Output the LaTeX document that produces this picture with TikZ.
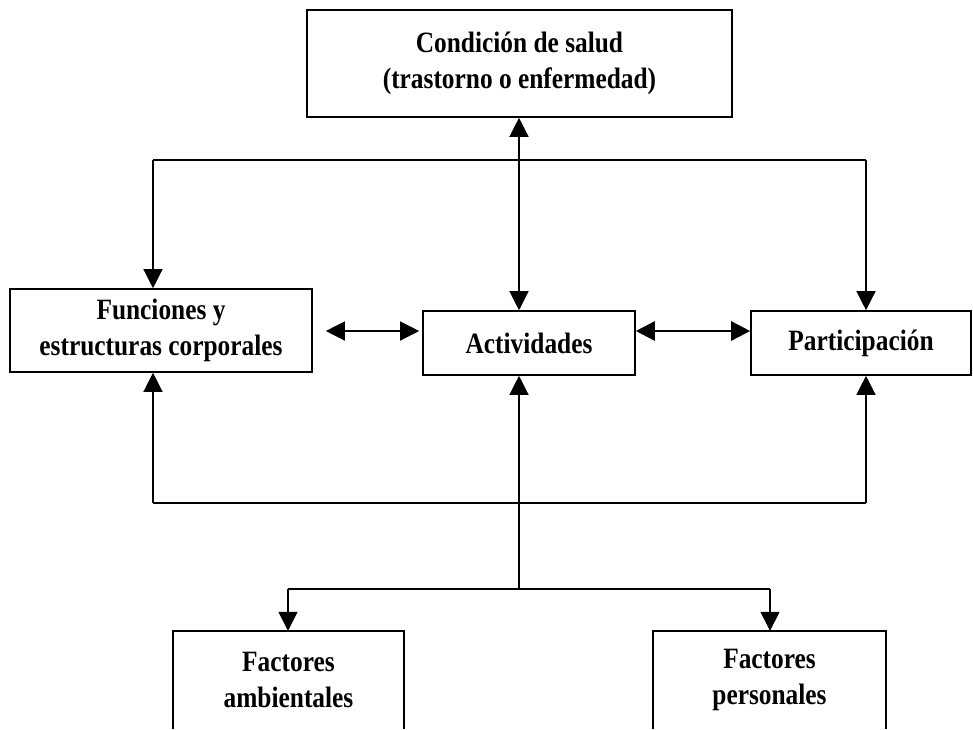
\documentclass[tikz,border=0pt]{standalone}
\usepackage{fontspec}
\setmainfont{Liberation Serif}[FakeStretch=0.86]
\usetikzlibrary{arrows.meta}
\begin{document}
\begin{tikzpicture}[x=1pt,y=-1pt,
  txt/.style={inner sep=0pt, align=center, font=\fontsize{29.5}{36}\selectfont\bfseries},
  box/.style={txt, draw, line width=1.6pt},
  link/.style={line width=1.3pt},
  tip/.style={-{Triangle[width=19pt,length=19pt]}},
  tips/.style={{Triangle[width=19pt,length=19pt]}-{Triangle[width=19pt,length=19pt]}}]
\useasboundingbox (0,0) rectangle (973,729);
% boxes
\node[box, minimum width=425pt, minimum height=107pt] (top) at (519.5,63.5)
  {Condición de salud\\(trastorno o enfermedad)};
\node[box, minimum width=302pt, minimum height=83pt] (left) at (161,330.5)
  {Funciones y\\estructuras corporales};
\node[box, minimum width=212pt, minimum height=64pt] (act) at (529,343) {Actividades};
\node[box, minimum width=220pt, minimum height=64pt] (part) at (861,343) {Participación};
\node[txt, minimum width=231pt, minimum height=98pt] (fa) at (288.5,680)
  {Factores\\ambientales};
\node[txt, minimum width=233pt, minimum height=98pt] (fp) at (769.5,680)
  {Factores\\personales};
\draw[line width=1.8pt] (fa.south west) -- (fa.north west) -- (fa.north east) -- (fa.south east);
\draw[line width=1.8pt] (fp.south west) -- (fp.north west) -- (fp.north east) -- (fp.south east);
% helper coordinates
\coordinate (cx) at (519,0);
\coordinate (tl) at (153,160);
\coordinate (tr) at (866,160);
\coordinate (bl) at (153,503);
\coordinate (br) at (866,503);
\coordinate (bj) at (519,589);
\coordinate (fl) at (288,589);
\coordinate (fr) at (770,589);
\coordinate (ay) at (0,331);
% top connectors
\draw[link, tips] (top.south -| cx) -- (act.north -| cx);
\draw[link] (tl) -- (tr);
\draw[link, tip] (tl) -- (tl |- left.north);
\draw[link, tip] (tr) -- (tr |- part.north);
% bottom loop
\draw[link] (bl) -- (br);
\draw[link, tip] (bl) -- (bl |- left.south);
\draw[link, tip] (br) -- (br |- part.south);
\draw[link, tip] (bj) -- (act.south -| cx);
% factors
\draw[link] (fl) -- (fr);
\draw[link, tip] (fl) -- (fa.north -| fl);
\draw[link, tip] (fr) -- (fp.north -| fr);
% horizontal links
\draw[link, tips, shorten <=13pt, shorten >=3pt] (left.east |- ay) -- (act.west |- ay);
\draw[line width=2.6pt, tips] (act.east |- ay) -- (part.west |- ay);
\end{tikzpicture}
\end{document}
